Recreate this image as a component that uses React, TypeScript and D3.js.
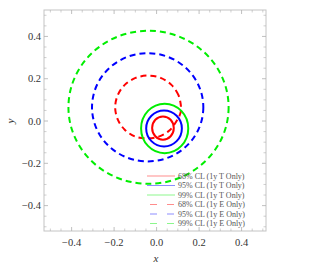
import React from "react";
import * as d3 from "d3";

const W = 319;
const H = 266;

// contour ellipses: center x, center y, radius x, radius y
const seriesNames = [
  "68% CL (1y T Only)",
  "95% CL (1y T Only)",
  "99% CL (1y T Only)",
  "68% CL (1y E Only)",
  "95% CL (1y E Only)",
  "99% CL (1y E Only)",
];
const seriesColors = ["#ff0000", "#0000ff", "#00ee00", "#ff0000", "#0000ff", "#00ee00"];
const seriesDashed = [false, false, false, true, true, true];
const centerX = [0.03, 0.035, 0.038, -0.04, -0.042, -0.038];
const centerY = [-0.033, -0.035, -0.035, 0.065, 0.065, 0.065];
const radiusX = [0.051, 0.084, 0.111, 0.155, 0.262, 0.377];
const radiusY = [0.055, 0.085, 0.117, 0.15, 0.256, 0.362];

// 68% CL (1y E Only) contour is not a clean ellipse: read as points
const red68EX = [0.115, 0.103, 0.07, 0.019, -0.04, -0.099, -0.15, -0.183, -0.195, -0.183, -0.15, -0.099, -0.04, 0.01, 0.06, 0.1, 0.113];
const red68EY = [0.065, 0.122, 0.171, 0.204, 0.215, 0.204, 0.171, 0.122, 0.065, 0.008, -0.041, -0.074, -0.082, -0.074, -0.045, 0.01, 0.04];

const majorTicks = [-0.4, -0.2, 0.0, 0.2, 0.4];
const minorTicks = [-0.5, -0.45, -0.35, -0.3, -0.25, -0.15, -0.1, -0.05, 0.05, 0.1, 0.15, 0.25, 0.3, 0.35, 0.45, 0.5];

const xDomain = [-0.53, 0.515];
const yDomain = [-0.52, 0.525];

export default function App() {
  const left = 44, right = 266, top = 10, bottom = 231;
  const x = d3.scaleLinear().domain(xDomain).range([left, right]);
  const y = d3.scaleLinear().domain(yDomain).range([bottom, top]);
  const fmt = (v: number) => (v < 0 ? "\u2212" : "") + Math.abs(v).toFixed(1);
  const frameColor = "#c4c4c4";
  const tickColor = "#b0b0b0";
  const textColor = "#333";

  const order = [5, 4, 3, 2, 1, 0];
  const redPts = red68EX.map((v, i) => [v, red68EY[i]] as [number, number]);
  const redPath = d3
    .line<[number, number]>()
    .x((d) => x(d[0]))
    .y((d) => y(d[1]))
    .curve(d3.curveCatmullRomClosed.alpha(0.5))(redPts) as string;

  return (
    <svg width={W} height={H} style={{ position: "absolute", left: 0, top: 0 }} fontFamily="'Liberation Serif', 'DejaVu Serif', serif">
      <rect x={0} y={0} width={W} height={H} fill="#fff" />
      <defs>
        <clipPath id="plotclip">
          <rect x={left} y={top} width={right - left} height={bottom - top} />
        </clipPath>
      </defs>
      <g clipPath="url(#plotclip)">
        {order.map((i) =>
          i === 3 ? (
            <path
              key={i}
              d={redPath}
              fill="none"
              stroke={seriesColors[i]}
              strokeWidth={2}
              strokeDasharray="6,4"
            />
          ) : (
            <ellipse
              key={i}
              cx={x(centerX[i])}
              cy={y(centerY[i])}
              rx={x(centerX[i] + radiusX[i]) - x(centerX[i])}
              ry={y(centerY[i]) - y(centerY[i] + radiusY[i])}
              fill="none"
              stroke={seriesColors[i]}
              strokeWidth={2}
              strokeDasharray={seriesDashed[i] ? "6,4" : undefined}
            />
          )
        )}
      </g>
      {/* frame */}
      <rect x={left} y={top} width={right - left} height={bottom - top} fill="none" stroke={frameColor} strokeWidth={1} />
      {/* ticks */}
      {majorTicks.map((t) => (
        <g key={"M" + t} stroke={tickColor} strokeWidth={0.8}>
          <line x1={x(t)} x2={x(t)} y1={bottom} y2={bottom - 4} />
          <line x1={x(t)} x2={x(t)} y1={top} y2={top + 4} />
          <line x1={left} x2={left + 4} y1={y(t)} y2={y(t)} />
          <line x1={right} x2={right - 4} y1={y(t)} y2={y(t)} />
        </g>
      ))}
      {minorTicks.map((t) => (
        <g key={"m" + t} stroke={tickColor} strokeWidth={0.6}>
          {x(t) > left && x(t) < right && (
            <>
              <line x1={x(t)} x2={x(t)} y1={bottom} y2={bottom - 2.5} />
              <line x1={x(t)} x2={x(t)} y1={top} y2={top + 2.5} />
            </>
          )}
          {y(t) > top && y(t) < bottom && (
            <>
              <line x1={left} x2={left + 2.5} y1={y(t)} y2={y(t)} />
              <line x1={right} x2={right - 2.5} y1={y(t)} y2={y(t)} />
            </>
          )}
        </g>
      ))}
      {/* tick labels */}
      {majorTicks.map((t) => (
        <text key={"xl" + t} x={x(t)} y={246} textAnchor="middle" fontSize={10.5} fill={textColor}>
          {fmt(t)}
        </text>
      ))}
      {majorTicks.map((t) => (
        <text key={"yl" + t} x={41} y={y(t) + 3.5} textAnchor="end" fontSize={10.5} fill={textColor}>
          {fmt(t)}
        </text>
      ))}
      <text x={156} y={262} textAnchor="middle" fontSize={11} fontStyle="italic" fill={textColor}>
        x
      </text>
      <text transform="translate(14,121) rotate(-90)" textAnchor="middle" fontSize={11} fontStyle="italic" fill={textColor}>
        y
      </text>
      {/* legend */}
      {seriesNames.map((name, i) => {
        const ly = 176 + i * 9.5;
        return (
          <g key={"lg" + i}>
            <line
              x1={147}
              x2={175}
              y1={ly}
              y2={ly}
              stroke={seriesColors[i]}
              strokeOpacity={0.45}
              strokeWidth={1}
              strokeDasharray={seriesDashed[i] ? "7,10" : undefined}
              strokeDashoffset={seriesDashed[i] ? -3 : 0}
            />
            <text x={178} y={ly + 2.8} fontSize={8} fill="#555">
              {name}
            </text>
          </g>
        );
      })}
    </svg>
  );
}
